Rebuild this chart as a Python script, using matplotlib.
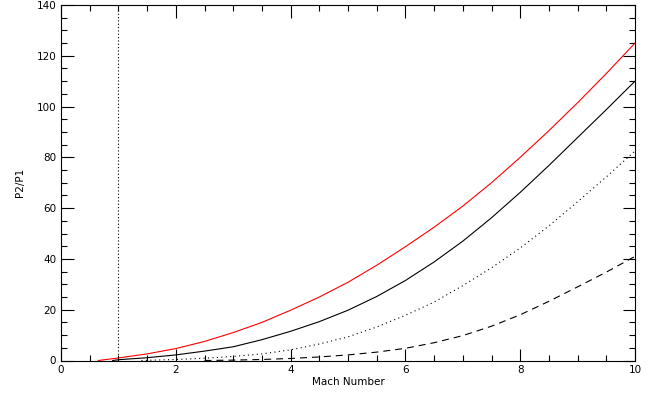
import matplotlib
matplotlib.use("Agg")
import matplotlib.pyplot as plt
from matplotlib.ticker import MultipleLocator

plt.rcParams['lines.scale_dashes'] = False

# Data
mach_red = [0.65, 1, 1.5, 2, 2.5, 3, 3.5, 4, 4.5, 5, 5.5, 6, 6.5, 7, 7.5, 8, 8.5, 9, 9.5, 10]
p_red = [0, 1.0, 2.6, 4.7, 7.5, 11, 15, 19.8, 25, 30.8, 37.5, 44.8, 52.5, 60.8, 70, 80, 90.5, 101.5, 113, 125]

mach_solid = [0.9, 1, 1.5, 2, 2.5, 3, 3.5, 4, 4.5, 5, 5.5, 6, 6.5, 7, 7.5, 8, 8.5, 9, 9.5, 10]
p_solid = [0, 0.3, 1.1, 2.2, 3.7, 5.4, 8.2, 11.5, 15.3, 19.8, 25.2, 31.5, 38.8, 47, 56.2, 66.2, 76.8, 87.8, 98.8, 110]

mach_dot = [1.4, 2, 2.5, 3, 3.5, 4, 4.5, 5, 5.5, 6, 6.5, 7, 7.5, 8, 8.5, 9, 9.5, 10]
p_dot = [0, 0.4, 0.9, 1.6, 2.6, 4.2, 6.5, 9.3, 13.2, 17.8, 23, 29.5, 36.5, 44.3, 53, 62.5, 72.3, 82.5]

mach_dash = [2.5, 3, 3.5, 4, 4.5, 5, 5.5, 6, 6.5, 7, 7.5, 8, 8.5, 9, 9.5, 10]
p_dash = [0, 0.15, 0.4, 0.8, 1.4, 2.2, 3.3, 4.8, 7, 9.8, 13.5, 18, 23.3, 29, 34.8, 41]

mach_ref = [1, 1]
p_ref = [0, 140]

fig = plt.figure(figsize=(6.48, 3.97), dpi=100)
ax = fig.add_axes([61/648, 1-360.5/397, 574/648, 355.5/397])

lw = 0.8
ax.plot(mach_red, p_red, color='red', lw=lw)
ax.plot(mach_solid, p_solid, color='black', lw=lw)
ax.plot(mach_dot, p_dot, color='black', lw=lw, dashes=(0.8, 2.4))
ax.plot(mach_dash, p_dash, color='black', lw=lw, dashes=(5, 3.6))
ax.plot(mach_ref, p_ref, color='black', lw=lw, dashes=(0.8, 1.6))

ax.set_xlim(0, 10)
ax.set_ylim(0, 140)
ax.xaxis.set_major_locator(MultipleLocator(2))
ax.xaxis.set_minor_locator(MultipleLocator(0.5))
ax.yaxis.set_major_locator(MultipleLocator(20))
ax.yaxis.set_minor_locator(MultipleLocator(5))
ax.tick_params(which='both', direction='in', top=True, right=True, labelsize=7.5, width=0.8, color='black')
ax.tick_params(which='major', length=9)
ax.tick_params(which='minor', length=4.5)
for s in ax.spines.values():
    s.set_linewidth(0.8)

ax.set_xlabel('Mach Number', fontsize=7.5, labelpad=1)
ax.set_ylabel('P2/P1', fontsize=7.5, labelpad=8)

fig.savefig('out.png', dpi=100)
